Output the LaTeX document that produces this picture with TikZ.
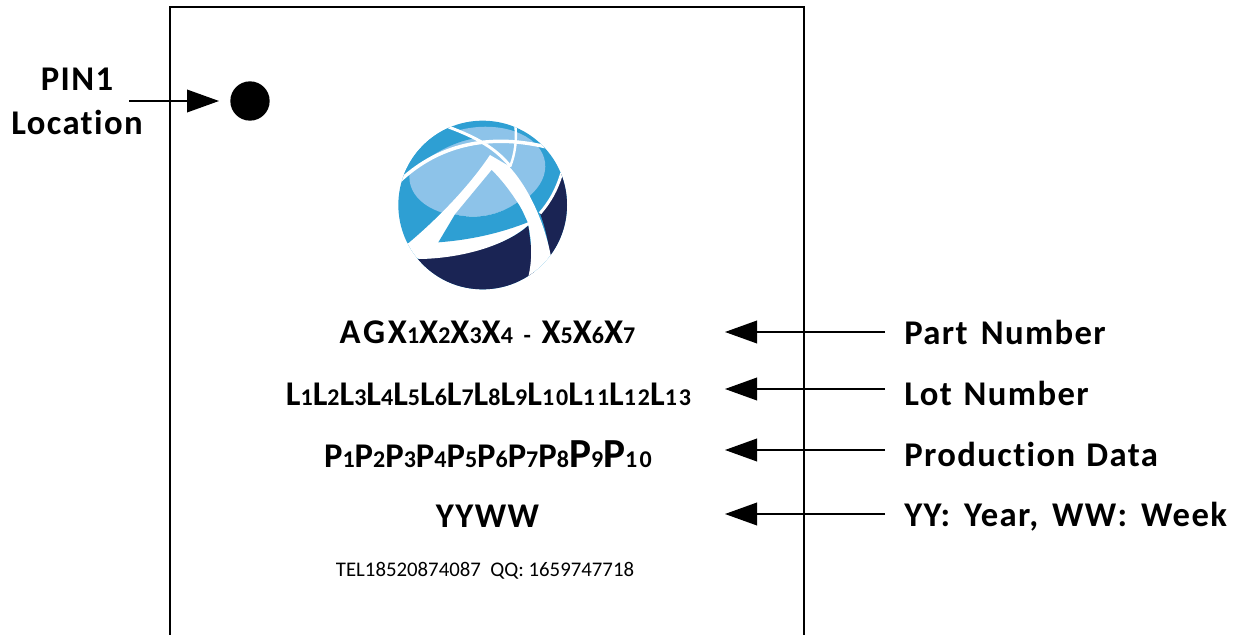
\documentclass[tikz,border=0pt]{standalone}
\usepackage{fontspec}
\setmainfont{Carlito}
\newfontfamily\markfont[LetterSpace=4,Ligatures=NoCommon]{Carlito}
\newfontfamily\chipfont[LetterSpace=8,Ligatures=NoCommon]{Carlito}
\newfontfamily\prodfont[LetterSpace=10,Ligatures=NoCommon]{Carlito}
\usetikzlibrary{arrows.meta}
\definecolor{logomid}{HTML}{2E9FD3}
\definecolor{logolight}{HTML}{8DC3E9}
\definecolor{logonavy}{HTML}{1A2454}
\newcommand{\lowsub}[1]{{\fontsize{18}{19}\selectfont #1}}
\newcommand{\bigp}{{\fontsize{31}{32}\selectfont P}}
\tikzset{
  x=0.75pt,y=-0.75pt,
  lbl/.style={inner sep=0pt,anchor=base west,font=\markfont\bfseries\fontsize{26}{30}\selectfont},
  pinlbl/.style={inner sep=0pt,anchor=base,font=\markfont\bfseries\fontsize{26}{30}\selectfont},
  marking/.style={inner sep=0pt,anchor=base,font=\chipfont\bfseries\fontsize{26}{30}\selectfont},
  callout/.style={line width=1.1pt,-{Triangle[length=24pt,width=17pt]}},
  chip/.style={line width=1.1pt},
  white band/.style={fill=white,draw=none}
}
\begin{document}
\begin{tikzpicture}
\useasboundingbox (0,0) rectangle (1247,635);
\draw[chip] (170,635) -- (170,7) -- (804,7) -- (804,635);
% PIN1
\node[pinlbl] (pina) at (77,91) {PIN1};
\node[pinlbl] (pinb) at (77,135) {Location};
\node[circle,fill=black,inner sep=0pt,minimum size=29.5pt] (pindot) at (250,101) {};
\coordinate (pinstart) at (129,101);
\coordinate (pintip) at (219,101);
\draw[callout] (pinstart) -- (pintip);
% Logo
\begin{scope}[shift={(380,105)},x=0.25pt,y=-0.25pt]
\fill[logomid] (308,300) circle[x radius=253,y radius=253];
\begin{scope}
\clip (308,300) circle[x radius=253,y radius=253];
\fill[logolight,rotate around={8:(292,200)}] (292,200) circle[x radius=205,y radius=133];
% mid-blue wedge above the long arc
\fill[logomid] (30,240) -- (55,232) .. controls (140,150) and (220,110) .. (285,100) -- (195,62) -- (100,60) -- cycle;
% navy
\fill[logonavy] (60,465) .. controls (250,460) and (380,420) .. (445,362) -- (470,560) -- (60,570) -- cycle;
\fill[logonavy] (545,205) .. controls (530,255) and (510,290) .. (480,325) .. controls (495,365) and (505,410) .. (510,450) -- (580,420) -- (590,200) -- cycle;
% thin arcs
\draw[white,line width=2.6pt] (55,232) .. controls (140,150) and (280,75) .. (495,125);
\draw[white,line width=2.2pt] (195,62) .. controls (270,90) and (340,120) .. (392,185);
\draw[white,line width=1.8pt] (405,55) .. controls (412,100) and (405,150) .. (390,185);
\draw[white,line width=2.2pt] (545,205) .. controls (530,255) and (510,290) .. (480,325);
% A shape
\fill[white band] (70,410) -- (85,415) .. controls (180,335) and (270,240) .. (330,150) -- (385,182)
  .. controls (440,240) and (490,340) .. (512,450) -- (560,470) -- (470,570) -- (445,515)
  .. controls (458,460) and (455,410) .. (445,360)
  .. controls (380,420) and (250,460) .. (118,462) -- (70,440) -- cycle;
\fill[logolight] (335,195) -- (225,328) .. controls (290,345) and (360,330) .. (412,292) .. controls (385,250) and (360,220) .. (335,195) -- cycle;
\fill[logomid] (175,412) -- (225,328) .. controls (290,345) and (360,330) .. (412,292) .. controls (425,310) and (435,335) .. (443,352) .. controls (360,385) and (270,405) .. (175,412) -- cycle;
\end{scope}
\end{scope}
% Marking
\node[marking] (mpart) at (487.5,343) {AGX\lowsub{1}X\lowsub{2}X\lowsub{3}X\lowsub{4} \lowsub{-} X\lowsub{5}X\lowsub{6}X\lowsub{7}};
\node[marking] (mlot) at (488.5,405) {L\lowsub{1}L\lowsub{2}L\lowsub{3}L\lowsub{4}L\lowsub{5}L\lowsub{6}L\lowsub{7}L\lowsub{8}L\lowsub{9}L\lowsub{10}L\lowsub{11}L\lowsub{12}L\lowsub{13}};
\node[marking,font=\prodfont\bfseries\fontsize{26}{28}\selectfont] (mprod) at (488,467) {P\lowsub{1}P\lowsub{2}P\lowsub{3}P\lowsub{4}P\lowsub{5}P\lowsub{6}P\lowsub{7}P\lowsub{8}\bigp\lowsub{9}\bigp\lowsub{10}};
\node[marking,font=\markfont\bfseries\fontsize{26}{30}\selectfont] (myear) at (487.5,527) {YYWW};
\node[inner sep=0pt,anchor=base,font=\fontsize{15.6}{18}\selectfont] (mtel) at (485,576) {TEL18520874087~~QQ: 1659747718};
% Labels
\node[lbl] (lpart) at (904,344) {Part\hspace{3pt} Number};
\node[lbl] (llot) at (904,405) {Lot\hspace{2pt} Number};
\node[lbl] (lprod) at (904,466) {Production\hspace{1.5pt} Data};
\node[lbl] (lyear) at (904,526) {YY:\hspace{3.5pt} Year,\hspace{3.5pt} WW:\hspace{3.5pt} Week};
\foreach \n/\y in {part/332,lot/389,prod/450,year/514}{
  \coordinate (s\n) at (885,\y);
  \coordinate (t\n) at (725,\y);
  \draw[callout] (s\n) -- (t\n);
}
\end{tikzpicture}
\end{document}
